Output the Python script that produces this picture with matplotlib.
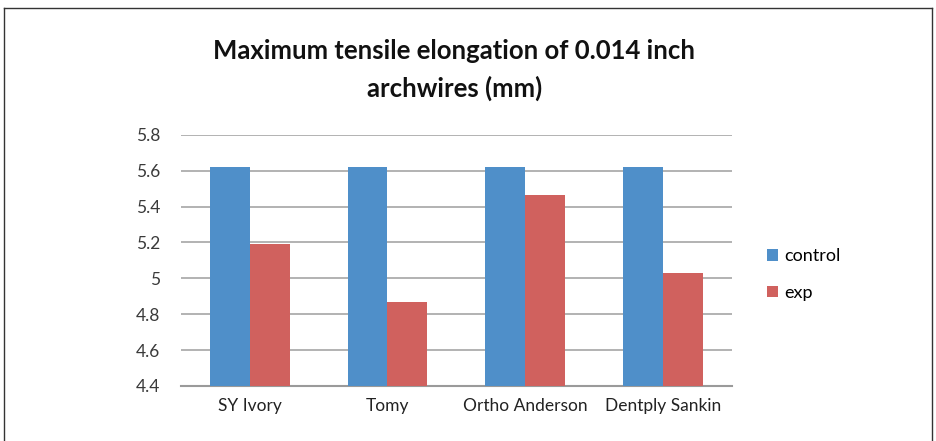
import matplotlib
matplotlib.use("Agg")
import matplotlib.pyplot as plt
import numpy as np
from matplotlib.lines import Line2D

plt.rcParams["font.family"] = ["Lato", "DejaVu Sans"]

categories = ["SY Ivory", "Tomy", "Ortho Anderson", "Dentply Sankin"]
control = [5.62, 5.62, 5.62, 5.62]
exp = [5.194, 4.87, 5.466, 5.03]
series_names = ["control", "exp"]
yticks = [4.4, 4.6, 4.8, 5.0, 5.2, 5.4, 5.6, 5.8]
ytick_labels = ["4.4", "4.6", "4.8", "5", "5.2", "5.4", "5.6", "5.8"]

BLUE = "#4f8fc9"
RED = "#d0615e"

fig = plt.figure(figsize=(9.37, 4.41), dpi=100)
ax = fig.add_axes([0.193, 0.125, 0.588, 0.569])

x = np.arange(len(categories))
width = 0.29
ax.bar(x - width / 2, control, width, color=BLUE, label=series_names[0], zorder=3)
ax.bar(x + width / 2, exp, width, color=RED, label=series_names[1], zorder=3)

ax.set_xlim(-0.5, len(categories) - 0.5)
ax.set_ylim(4.4, 5.8)
ax.set_yticks(yticks)
ax.set_yticklabels(ytick_labels, fontsize=12.5, color="#3a3a3a")
ax.set_xticks(x)
ax.set_xticklabels(categories, fontsize=12.5, color="#222222")
ax.tick_params(axis="y", length=0, pad=15)
ax.tick_params(axis="x", length=0, pad=9)
ax.grid(axis="y", color="#a6a6a6", linewidth=1.2, zorder=0)
for side in ["left", "right", "top"]:
    ax.spines[side].set_visible(False)
ax.spines["bottom"].set_color("#9a9a9a")
ax.spines["bottom"].set_linewidth(1.5)

fig.text(0.485, 0.885, "Maximum tensile elongation of 0.014 inch", ha="center", va="center",
         fontsize=18.5, fontweight="bold", color="#111111")
fig.text(0.485, 0.80, "archwires (mm)", ha="center", va="center",
         fontsize=18.5, fontweight="bold", color="#111111")

handles, labels = ax.get_legend_handles_labels()
fig.legend(handles, labels, loc="center left", bbox_to_anchor=(0.801, 0.377),
           frameon=False, fontsize=13, handlelength=0.6, handleheight=0.6,
           handletextpad=0.35, labelspacing=1.15)

# thin frame round the figure
for coords in [([0.004, 0.004], [0.0, 0.982]), ([0.004, 0.995], [0.982, 0.982]), ([0.995, 0.995], [0.0, 0.982])]:
    fig.add_artist(Line2D(coords[0], coords[1], color="#333333", linewidth=1.0))

fig.savefig("out.png", dpi=100)
